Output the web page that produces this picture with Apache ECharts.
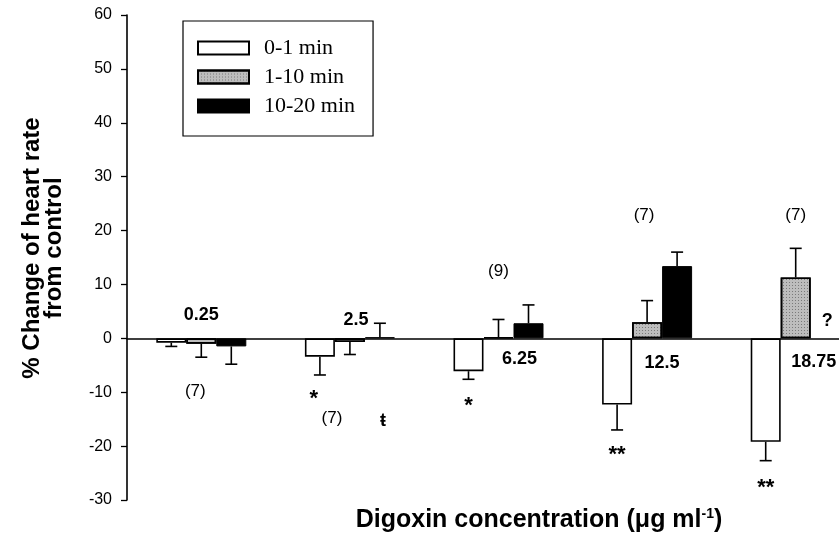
<!DOCTYPE html>
<html lang="en">
<head>
    <meta charset="UTF-8"/>
    <title>Digoxin heart rate</title>
    <script src="https://cdn.jsdelivr.net/npm/echarts@6/dist/echarts.min.js"></script>
    <style>
        html, body { margin: 0; background: #fff; }
        #main { width: 839px; height: 535px; }
    </style>
</head>
<body>
<div id="main"></div>
<script type="text/javascript">
    // digoxin concentrations (ug/ml), one group per concentration
    var concentrations = ['0.25', '2.5', '6.25', '12.5', '18.75'];
    var seriesNames = ['0-1 min', '1-10 min', '10-20 min'];

    // mean % change and end of the (one-sided) error bar
    var min0to1 = [-0.8, -3.4, -6.1, -12.3, -19.2];
    var min0to1Err = [-1.5, -6.8, -7.6, -17.0, -22.7];
    var min1to10 = [-1.0, -0.7, 0.2, 3.0, 11.3];
    var min1to10Err = [-3.5, -3.0, 3.5, 7.0, 16.7];
    var min10to20 = [-1.5, 0.2, 2.8, 13.4, null];
    var min10to20Err = [-4.8, 2.8, 6.2, 16.0, null];

    var yMin = -30, yMax = 60, yStep = 10;

    // text notes: [group, y value, text, kind, bar slot]
    var notes = [
        [0, 4.4, '0.25', 'conc', 0],
        [0, -9.8, '(7)', 'n', -0.2],
        [1, -11.2, '*', 'sig', -1.2],
        [1, -14.8, '(7)', 'n', -0.6],
        [1, 3.4, '2.5', 'conc', 0.2],
        [1, -15.3, 'ŧ', 'odd', 1.1],
        [2, 12.4, '(9)', 'n', 0],
        [2, -3.8, '6.25', 'conc', 0.7],
        [2, -12.6, '*', 'sig', -1],
        [3, 22.8, '(7)', 'n', -0.1],
        [3, -4.5, '12.5', 'conc', 0.5],
        [3, -21.6, '**', 'sig', -1],
        [4, 22.8, '(7)', 'n', 0],
        [4, 3.2, '?', 'conc', 1.05],
        [4, -4.4, '18.75', 'conc', 0.6],
        [4, -27.8, '**', 'sig', -1]
    ];

    var BAR_W = 30;
    var noteFont = {
        conc: 'bold 18px Arial, "Liberation Sans", sans-serif',
        n: '17px Arial, "Liberation Sans", sans-serif',
        sig: 'bold 22px Arial, "Liberation Sans", sans-serif',
        odd: 'bold 18px Arial, "Liberation Sans", sans-serif'
    };

    function errData(vals, errs) {
        var out = [];
        for (var i = 0; i < vals.length; i++) {
            if (vals[i] === null) continue;
            out.push([i, vals[i], errs[i]]);
        }
        return out;
    }

    function errorBar(slot) {
        return function (params, api) {
            var c = api.coord([api.value(0), api.value(1)]);
            var e = api.coord([api.value(0), api.value(2)]);
            var x = c[0] + slot * BAR_W;
            var style = { stroke: '#000', lineWidth: 1.6 };
            return {
                type: 'group',
                children: [
                    { type: 'line', shape: { x1: x, y1: c[1], x2: x, y2: e[1] }, style: style },
                    { type: 'line', shape: { x1: x - 6, y1: e[1], x2: x + 6, y2: e[1] }, style: style }
                ]
            };
        };
    }

    var chart = echarts.init(document.getElementById('main'));
    chart.setOption({
        animation: false,
        backgroundColor: '#fff',
        grid: { left: 127, width: 743, top: 15, bottom: 35, outerBoundsMode: 'none' },
        legend: {
            data: seriesNames,
            orient: 'vertical',
            left: 183,
            top: 21,
            padding: [16, 18, 19, 14],
            borderColor: '#000',
            borderWidth: 1.2,
            itemWidth: 51,
            itemHeight: 13,
            itemGap: 7,
            icon: 'rect',
            selectedMode: false,
            textStyle: {
                fontFamily: '"Liberation Serif", "Times New Roman", serif',
                fontSize: 22,
                lineHeight: 21,
                color: '#000',
                padding: [0, 0, 0, 10]
            }
        },
        xAxis: {
            type: 'category',
            data: concentrations,
            axisLine: { onZero: true, lineStyle: { color: '#000', width: 1.5 } },
            axisTick: { show: false },
            axisLabel: { show: false },
            splitLine: { show: false }
        },
        yAxis: {
            type: 'value',
            min: yMin,
            max: yMax,
            interval: yStep,
            axisLine: { show: true, lineStyle: { color: '#000', width: 1.6 } },
            axisTick: { show: true, length: 6, lineStyle: { color: '#000', width: 1.3 } },
            axisLabel: {
                margin: 15,
                color: '#000',
                fontFamily: 'Arial, "Liberation Sans", sans-serif',
                fontSize: 16
            },
            splitLine: { show: false }
        },
        graphic: [
            {
                type: 'text',
                x: 43,
                y: 248,
                rotation: Math.PI / 2,
                style: {
                    text: '% Change of heart rate\nfrom control',
                    font: 'bold 24px Arial, "Liberation Sans", sans-serif',
                    fill: '#000',
                    textAlign: 'center',
                    textVerticalAlign: 'middle',
                    lineHeight: 22
                }
            },
            {
                type: 'text',
                x: 539,
                y: 520,
                style: {
                    text: '{a|Digoxin concentration (μg ml}{s|-1}{a|)}',
                    textAlign: 'center',
                    textVerticalAlign: 'middle',
                    rich: {
                        a: { font: 'bold 25px Arial, "Liberation Sans", sans-serif', fill: '#000' },
                        s: { font: 'bold 14px Arial, "Liberation Sans", sans-serif', fill: '#000', padding: [0, 0, 12, 0] }
                    }
                }
            }
        ],
        series: [
            {
                name: seriesNames[0],
                type: 'bar',
                data: min0to1,
                barWidth: BAR_W,
                barGap: '0%',
                itemStyle: { color: '#fff', borderColor: '#000', borderWidth: 1.6 }
            },
            {
                name: seriesNames[1],
                type: 'bar',
                data: min1to10,
                barWidth: BAR_W,
                barGap: '0%',
                itemStyle: {
                    color: '#bdbdbd',
                    borderColor: '#000',
                    borderWidth: 1.6,
                    decal: {
                        symbol: 'rect',
                        symbolSize: 1,
                        color: 'rgba(40,40,40,0.45)',
                        dashArrayX: [1, 2],
                        dashArrayY: [1, 2],
                        rotation: 0
                    }
                }
            },
            {
                name: seriesNames[2],
                type: 'bar',
                data: min10to20,
                barWidth: BAR_W,
                barGap: '0%',
                itemStyle: { color: '#000', borderColor: '#000', borderWidth: 1 }
            },
            { name: 'err0', type: 'custom', data: errData(min0to1, min0to1Err), renderItem: errorBar(-1), z: 5 },
            { name: 'err1', type: 'custom', data: errData(min1to10, min1to10Err), renderItem: errorBar(0), z: 5 },
            { name: 'err2', type: 'custom', data: errData(min10to20, min10to20Err), renderItem: errorBar(1), z: 5 },
            {
                name: 'notes',
                type: 'custom',
                data: notes.map(function (n) { return [n[0], n[1]]; }),
                z: 6,
                renderItem: function (params, api) {
                    var n = notes[params.dataIndex];
                    var p = api.coord([n[0], n[1]]);
                    return {
                        type: 'text',
                        x: p[0] + n[4] * BAR_W,
                        y: p[1],
                        style: {
                            text: n[2],
                            font: noteFont[n[3]],
                            fill: '#000',
                            textAlign: 'center',
                            textVerticalAlign: 'middle'
                        }
                    };
                }
            }
        ]
    });
</script>
</body>
</html>
